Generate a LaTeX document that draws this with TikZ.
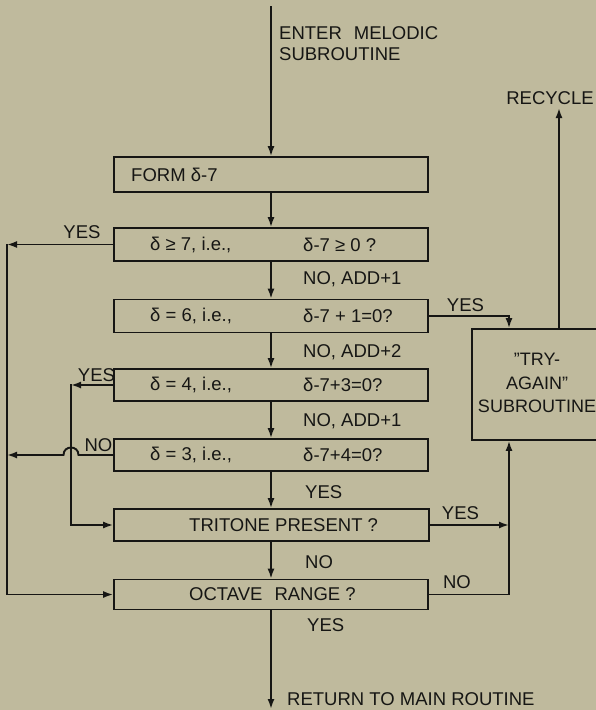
\documentclass[tikz,border=0pt]{standalone}
\usepackage{fontspec}
\setmainfont{Liberation Sans}
\usetikzlibrary{arrows.meta,calc}
\definecolor{paper}{RGB}{191,186,157}
\definecolor{ink}{RGB}{22,22,20}
\begin{document}
\begin{tikzpicture}[x=1pt,y=-1pt,
  every node/.style={font=\fontsize{18.5}{21}\selectfont, text=ink, inner sep=0pt},
  box/.style={draw=ink, line width=1.6pt, minimum width=314pt, inner sep=0pt},
  flow/.style={draw=ink, line width=1.9pt, line cap=rect},
  arr/.style={flow, -{Latex[length=10pt,width=7pt]}},
  lbl/.style={anchor=west},
  ]
\fill[paper] (0,0) rectangle (596,710);
\useasboundingbox (0,0) rectangle (596,710);

% helper coordinates
\coordinate (start) at (271,7);
\coordinate (lv) at (7,0);
\coordinate (iv) at (71,0);
\coordinate (rv) at (509,0);
\coordinate (rcx) at (559,0);
\coordinate (rtip) at (559,108);
\coordinate (finish) at (271,709);

% boxes
\node[box, minimum height=35pt] (form) at (271,174.5) {};
\node[box, minimum height=33pt] (b2) at (271,244.5) {};
\node[box, minimum height=33pt] (b3) at (271,316) {};
\node[box, minimum height=32pt] (b4) at (271,385) {};
\node[box, minimum height=32pt] (b5) at (271,455) {};
\node[box, minimum height=32pt, minimum width=315pt] (tri) at (271.5,525) {};
\node[box, minimum height=30pt] (oct) at (271,594.5) {};
\node[box, minimum width=136pt, minimum height=111pt] (try) at (540,384.5) {};

% box texts
\node[lbl] (formt) at (131,175) {FORM δ-7};
\node[lbl] (b2l) at (150,245) {δ ≥ 7, i.e.,};
\node[lbl] (b2r) at (303,245) {δ-7 ≥ 0 ?};
\node[lbl] (b3l) at (150,316) {δ = 6, i.e.,};
\node[lbl] (b3r) at (303,316) {δ-7 + 1=0?};
\node[lbl] (b4l) at (150,385) {δ = 4, i.e.,};
\node[lbl] (b4r) at (303,385) {δ-7+3=0?};
\node[lbl] (b5l) at (150,455) {δ = 3, i.e.,};
\node[lbl] (b5r) at (303,455) {δ-7+4=0?};
\node[lbl] (trit) at (189,525) {TRITONE PRESENT ?};
\node[lbl] (octt) at (189,594.5) {OCTAVE\hspace{12pt}RANGE ?};
\node[align=center, font=\fontsize{18}{23.5}\selectfont] (tryt) at (537,383) {"TRY-\\AGAIN"\\SUBROUTINE};

% free texts
\node[lbl, align=left] (enter) at (279,43.5) {ENTER\hspace{12pt}MELODIC\\SUBROUTINE};
\node (recycle) at (550,98) {RECYCLE};
\node[lbl] (ret) at (287,699) {RETURN TO MAIN ROUTINE};

% centre labels
\node[lbl] (l1) at (303,279) {NO, ADD+1};
\node[lbl] (l2) at (303,352) {NO, ADD+2};
\node[lbl] (l3) at (303,421) {NO, ADD+1};
\node[lbl] (l4) at (305,492) {YES};
\node[lbl] (l5) at (305,562) {NO};
\node[lbl] (l6) at (307,625) {YES};

% side labels
\node (y2) at (82,232) {YES};
\node (y4) at (96.5,375) {YES};
\node (n5) at (98.5,445) {NO};
\node (y3) at (465.5,305) {YES};
\node (yt) at (460.5,513) {YES};
\node (no) at (457,582) {NO};

% main flow
\draw[arr] (start) -- (form.north);
\draw[arr] (form.south) -- (b2.north);
\draw[arr] (b2.south) -- (b3.north);
\draw[arr] (b3.south) -- (b4.north);
\draw[arr] (b4.south) -- (b5.north);
\draw[arr] (b5.south) -- (b5.south |- tri.north);
\draw[arr] (tri.south -| b5.south) -- (oct.north);
\draw[arr] (oct.south) -- (finish);

% left side
\draw[arr] (b2.west) -- (b2.west -| lv);
\draw[arr] (b2.west -| lv) |- (oct.west);
\draw[arr] (b4.west) -- (b4.west -| iv);
\draw[arr] (b4.west -| iv) |- (tri.west);
\draw[arr] (b5.west) -- ($(b5.west -| iv)+(7.5,0)$)
  .. controls +(0,-10) and +(0,-10) .. ($(b5.west -| iv)+(-7.5,0)$)
  -- (b5.west -| lv);

% right side
\draw[arr] (b3.east) -- (b3.east -| rv) -- (rv |- try.north);
\draw[arr] (tri.east) -- (tri.east -| rv);
\draw[arr] (oct.east) -| (rv |- try.south);
\draw[arr] (try.north -| rcx) -- (rtip);
\end{tikzpicture}
\end{document}
